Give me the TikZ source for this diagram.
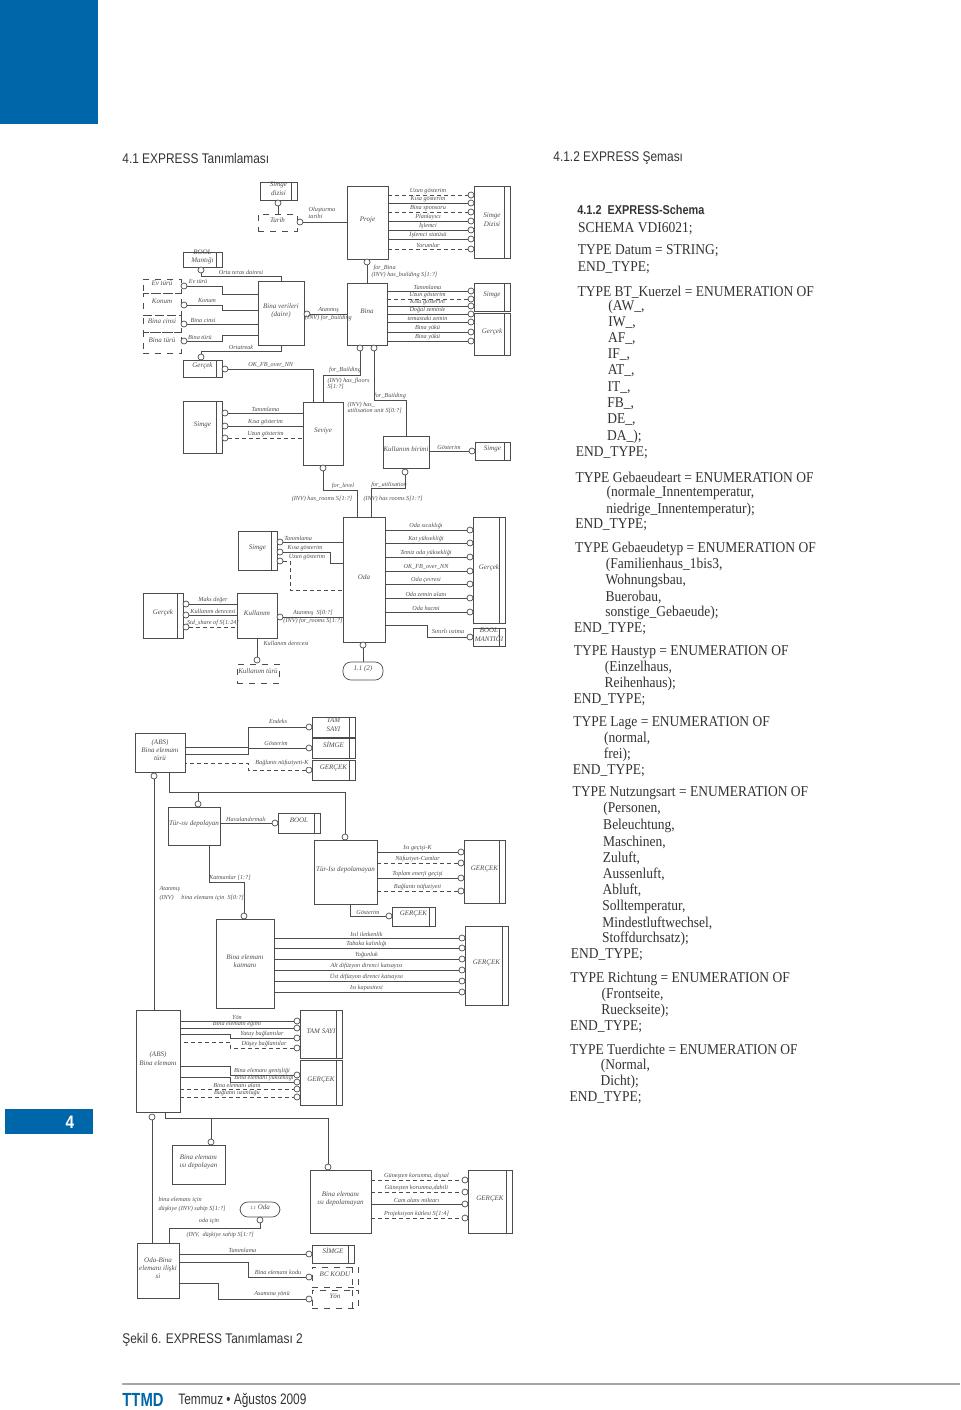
\documentclass[tikz,border=0pt]{standalone}
\usepackage{fontspec}
\setmainfont{Liberation Serif}
\newfontfamily\headfont[FakeStretch=0.85]{Liberation Sans}
\newfontfamily\codefont[FakeStretch=0.9]{Liberation Serif}
\newfontfamily\ttmdfont[FakeStretch=0.78]{Liberation Sans}
\usetikzlibrary{fit,positioning}
\definecolor{ttmd}{HTML}{0066AA}
\definecolor{ink}{gray}{0.3}
\tikzset{
  box/.style={draw=ink,line width=.35pt,inner sep=0pt,align=center,text=ink,font=\fontsize{3.5}{4.1}\selectfont\itshape},
  dbox/.style={box,dashed},
  tbox/.style={box,path picture={\draw[ink,line width=.35pt] ([xshift=-3pt]path picture bounding box.north east) -- ([xshift=-3pt]path picture bounding box.south east);}},
  dtbox/.style={dbox,path picture={\draw[ink,line width=.35pt,dashed] ([xshift=-3pt]path picture bounding box.north east) -- ([xshift=-3pt]path picture bounding box.south east);}},
  rbox/.style={box,rounded corners=4pt},
  dot/.style={circle,draw=ink,fill=white,line width=.35pt,inner sep=0pt,minimum size=3pt},
  lbl/.style={font=\fontsize{3.1}{3.6}\selectfont\itshape,text=ink,inner sep=.6pt,align=left},
  wire/.style={draw=ink,line width=.35pt},
  dwire/.style={wire,dash pattern=on 2pt off 1.5pt},
  code/.style={anchor=west,inner sep=0pt,font=\codefont\fontsize{7.5}{8}\selectfont,text=black!80},
  head/.style={anchor=west,inner sep=0pt,font=\headfont\fontsize{7}{8}\selectfont,text=black!80}
}
\newcommand{\bx}[5]{\node[#1,fit={(#3)(#4)}] (#2) {#5};}
\newcommand{\att}[5][wire]{%
  \node[dot] (#3) at (#4) {};
  \draw[#1] (#2.east |- #3) -- (#3) node[lbl,midway,above] {#5};}
\newcommand{\attl}[5][wire]{%
  \node[dot] (#3) at (#4) {};
  \draw[#1] (#3) -- (#2.west |- #3) node[lbl,midway,above] {#5};}

\begin{document}
\begin{tikzpicture}[x=0.5pt,y=-0.5pt]
\path[use as bounding box] (0,0) rectangle (960,1410);
\fill[ttmd] (0,0) rectangle (98,124);
\node[head] (h1) at (122,158) {4.1 EXPRESS Tanımlaması};
\node[head] (h2) at (553,158) {4.1.2 EXPRESS Şeması};

\bx{tbox}{sdat}{260,182}{297,200}{Simge\\dizisi}
\node[dot] (sdatc) at (278,203) {};
\bx{dbox}{tarih}{258,214}{297,231}{Tarih}
\draw[wire] (sdatc) -- (sdatc |- tarih.north);
\bx{box}{proje}{347,186}{388,259}{Proje}
\node[dot] (tarc) at (300,222) {};
\draw[wire] (tarc) -- (tarc -| proje.west);
\node[lbl] (l1) at (322,213) {Oluşturma\\tarihi};
\bx{tbox}{sdiz}{474,186}{510,258}{Simge\\Dizisi}
\att[dwire]{proje}{pa}{471,195}{Uzun gösterim}
\att{proje}{pb}{471,203}{Kısa gösterim}
\att[dwire]{proje}{pc}{471,212}{Bina sponsoru}
\att{proje}{pd}{471,221}{Planlayıcı}
\att{proje}{pe}{471,230}{İşlemci}
\att{proje}{pf}{471,239}{İşlemci statüsü}
\att[dwire]{proje}{pg}{471,249}{Yorumlar}

\node[dot] (prc) at (367,262) {};
\bx{box}{bina}{347,283}{387,345}{Bina}
\draw[wire] (prc) -- (prc |- bina.north);
\node[lbl,anchor=west] (l2) at (372,268) {for\_Bina};
\node[lbl,anchor=west] (l3) at (370,275) {(INV) has\_building S[1:?]};
\bx{tbox}{bsim}{474,283}{510,311}{Simge}
\bx{tbox}{bger}{474,313}{510,355}{Gerçek}
\att{bina}{ba}{471,291}{Tanımlama}
\att[dwire]{bina}{bb}{471,299}{Uzun gösterim}
\att{bina}{bc}{471,306}{Kısa gösterim}
\att{bina}{bd}{471,314}{Doğal zeminle}
\att{bina}{be}{471,322}{temastaki zemin}
\att{bina}{bf}{471,332}{Bina yükü}
\att{bina}{bg}{471,341}{Bina yükü}
\node[dot] (bc1) at (360,348) {};
\node[dot] (bc2) at (374,348) {};

\bx{tbox}{bool}{183,252}{222,267}{BOOL\\Mantığı}
\node[dot] (boolc) at (201,270) {};
\bx{box}{bver}{258,281}{304,345}{Bina verileri\\(daire)}
\draw[wire] (boolc) -- ++(0,6) -| (bver.north) node[lbl,pos=0.25,above] {Orta teras dairesi};
\bx{dbox}{evt}{143,279}{181,293}{Ev türü}
\bx{dbox}{kon}{143,293}{181,315}{Konum}
\bx{dbox}{bcn}{143,315}{181,332}{Bina cinsi}
\bx{dbox}{btr}{143,332}{181,353}{Bina türü}
\node[dot] (evc) at (184,286) {};
\node[dot] (konc) at (184,305) {};
\node[dot] (bcnc) at (184,324) {};
\node[dot] (btrc) at (184,341) {};
\draw[wire] (evc) -- ++(38,0) -- ++(0,8) coordinate (q1) -- (q1 -| bver.west);
\draw[wire] (konc) -- ++(38,0) -- ++(0,5) coordinate (q2) -- (q2 -| bver.west);
\draw[wire] (bcnc) -- (bcnc -| bver.west);
\draw[wire] (btrc) -- ++(38,0) -- ++(0,-6) coordinate (q3) -- (q3 -| bver.west);
\node[lbl] (l4) at (198,281) {Ev türü};
\node[lbl] (l5) at (207,300) {Konum};
\node[lbl] (l6) at (203,320) {Bina cinsi};
\node[lbl] (l7) at (200,337) {Bina türü};
\node[dot] (bvc) at (307,314) {};
\draw[wire] (bvc) -- (bvc -| bina.west) node[lbl,midway,above] {Atanmış} node[lbl,midway,below] {(INV) for\_building};

\bx{tbox}{ger1}{183,360}{222,377}{Gerçek}
\node[dot] (gerc1) at (201,357) {};
\draw[wire] (bver.south) -- ++(0,6) -| (gerc1) node[lbl,pos=0.25,above] {Ortatreak};
\bx{box}{sev}{303,402}{343,465}{Seviye}
\node[dot] (gerc2) at (225,369) {};
\draw[wire] (gerc2) -| ([xshift=-5pt]sev.north) node[lbl,pos=0.25,above] {OK\_FB\_over\_NN};
\draw[wire] (bc1) -- ++(0,27) -| (sev.north);
\node[lbl] (l8) at (345,370) {for\_Building};
\node[lbl,anchor=west] (l9) at (326,381) {(INV) has\_floors};
\node[lbl,anchor=west] (l10) at (326,387) {S[1:?]};
\bx{box}{kb}{383,436}{429,468}{Kullanım birimi}
\draw[wire] (bc2) -- ++(0,52) -| (kb.north);
\node[lbl] (l11) at (390,396) {for\_Building};
\node[lbl,anchor=west] (l12) at (346,405) {(INV) has\_};
\node[lbl,anchor=west] (l13) at (346,411) {utilisation unit S[0:?]};
\bx{tbox}{ksim}{475,442}{510,460}{Simge}
\node[dot] (kbs) at (472,451) {};
\draw[wire] (kb.east |- kbs) -- (kbs) node[lbl,midway,above] {Gösterim};
\bx{tbox}{ssim}{183,401}{222,453}{Simge}
\attl{sev}{sa}{225,413}{Tanımlama}
\attl{sev}{sb}{225,426}{Kısa gösterim}
\attl[dwire]{sev}{sc}{225,438}{Uzun gösterim}

\bx{box}{oda}{343,517}{385,642}{Oda}
\node[dot] (svc) at (323,468) {};
\draw[wire] (svc) -- ++(0,22) -| ([xshift=-3.5pt]oda.north);
\node[lbl] (l14) at (343,486) {for\_level};
\node[lbl] (l15) at (322,499) {(INV) has\_rooms S[1:?]};
\node[dot] (kbc) at (405,472) {};
\draw[wire] (kbc) -- ++(0,16) -| ([xshift=3.5pt]oda.north);
\node[lbl] (l16) at (389,485) {for\_utilisation};
\node[lbl] (l17) at (393,499) {(INV) has rooms S[1:?]};
\bx{tbox}{oger}{473,517}{505,623}{Gerçek}
\att{oda}{oa}{470,530}{Oda sıcaklığı}
\att{oda}{ob}{470,543}{Kat yüksekliği}
\att{oda}{oc}{470,557}{Temiz oda yüksekliği}
\att{oda}{od}{470,571}{OK\_FB\_over\_NN}
\att{oda}{oe}{470,584}{Oda çevresi}
\att{oda}{of}{470,598}{Oda zemin alanı}
\att{oda}{og}{470,612}{Oda hacmi}
\bx{tbox}{obool}{473,628}{505,646}{BOOL\\MANTIĞI}
\node[dot] (osi) at (470,637) {};
\draw[wire] ([yshift=8.5pt]oda.south east) -- ++(42,0) |- (osi);
\node[lbl] (l18) at (448,631) {Sınırlı ısıtma};
\bx{tbox}{osim}{238,531}{277,570}{Simge}
\node[dot] (osa) at (280,542) {};
\node[dot] (osb) at (280,552) {};
\node[dot] (osc) at (280,561) {};
\draw[wire] (osa) -- (osa -| oda.west) node[lbl,pos=0.25,above] {Tanımlama};
\draw[wire] (osb) -- ++(50,0) -- ++(0,11) coordinate (q4) -- (q4 -| oda.west);
\draw[dwire] (osc) -- ++(10,0) -- ++(0,29) coordinate (q5) -- (q5 -| oda.west);
\node[lbl] (l19) at (305,548) {Kısa gösterim};
\node[lbl] (l20) at (307,557) {Uzun gösterim};
\bx{box}{kul}{237,593}{277,638}{Kullanım}
\node[dot] (kuc) at (280,617) {};
\draw[wire] (kuc) -- (kuc -| oda.west) node[lbl,midway,above] {Atanmış \ S[0:?]} node[lbl,midway,below] {(INV) for\_rooms S[1:?]};
\bx{tbox}{kger}{143,593}{183,638}{Gerçek}
\attl{kul}{ka}{186,604}{Maks değer}
\attl{kul}{kbd}{186,615}{Kullanım derecesi}
\attl[dwire]{kul}{kc}{186,627}{Std\_share of S[1:24]}
\node[dot] (kuc2) at (257,660) {};
\draw[wire] (kul) -- (kuc2);
\node[lbl,anchor=west] (l21) at (262,643) {Kullanım derecesi};
\bx{dbox}{kturu}{237,664}{279,683}{Kullanım türü}
\node[dot] (odc) at (363,645) {};
\bx{rbox}{r12}{343,662}{383,680}{1.1 (2)}
\draw[wire] (odc) -- (r12);

\bx{box}{bet}{135,733}{185,772}{(ABS)\\Bina elemanı\\türü}
\bx{tbox}{ets}{312,717}{355,737}{TAM\\SAYI}
\bx{tbox}{esi}{312,738}{355,758}{SİMGE}
\bx{tbox}{ege}{312,760}{355,780}{GERÇEK}
\node[dot] (ea) at (309,727) {};
\node[dot] (eb) at (309,748) {};
\node[dot] (ec) at (309,770) {};
\draw[wire] (ea) -- ++(-61,0) -- ++(0,20) coordinate (q6) -- (q6 -| bet.east);
\draw[wire] (eb) -- ++(-61,0) -- ++(0,6) coordinate (q7) -- (q7 -| bet.east);
\draw[dwire] (ec) -- ++(-61,0) -- ++(0,-7) coordinate (q8) -- (q8 -| bet.east);
\node[lbl] (l22) at (278,721) {Endeks};
\node[lbl] (l23) at (276,743) {Gösterim};
\node[lbl,fill=white] (l24) at (282,763) {Bağlantı nüfuziyeti-K};
\node[dot] (btc) at (154,776) {};
\bx{box}{bel}{136,1010}{180,1112}{(ABS)\\Bina elemanı}
\draw[wire] (btc) -- (btc |- bel.north);
\node[lbl,anchor=west] (l25) at (158,889) {Atanmış};
\node[lbl,anchor=west] (l26) at (158,898) {(INV) \quad bina elemanı için \ S[0:?]};

\bx{box}{tid}{168,807}{220,845}{Tür-ısı depolayan}
\bx{box}{tdm}{314,840}{377,904}{Tür-Isı depolamayan}
\node[dot] (tdc1) at (198,804) {};
\node[dot] (tdc2) at (345,837) {};
\draw[wire] ([xshift=4.5pt]bet.south) -- ++(0,20) -| (tdc2);
\draw[wire] (tdc1) -- ++(0,-12);
\bx{tbox}{hbool}{278,813}{320,833}{BOOL}
\att{tid}{hav}{275,823}{Havalandırmalı}
\bx{box}{bek}{216,919}{274,1008}{Bina elemanı\\katmanı}
\node[dot] (kac) at (244,916) {};
\draw[wire] ([xshift=7.5pt]tid.south) -- ++(0,37) -| (kac) node[lbl,pos=0.3,above] {Katmanlar [1:?]};
\bx{tbox}{tger}{464,840}{505,903}{GERÇEK}
\att{tdm}{ta1}{461,852}{Isı geçişi-K}
\att[dwire]{tdm}{ta2}{461,863}{Nüfuziyet-Camlar}
\att{tdm}{ta3}{461,878}{Toplam enerji geçişi}
\att[dwire]{tdm}{ta4}{461,891}{Bağlantı nüfuziyeti}
\bx{tbox}{gger}{392,907}{435,926}{GERÇEK}
\node[dot] (gsc) at (389,916) {};
\draw[wire] ([xshift=2.25pt]tdm.south) |- (gsc) node[lbl,pos=0.75,above] {Gösterim};
\bx{tbox}{kger2}{465,926}{508,1005}{GERÇEK}
\att{bek}{ka1}{462,938}{Isıl iletkenlik}
\att{bek}{ka2}{462,948}{Tabaka kalınlığı}
\att{bek}{ka3}{462,959}{Yoğunluk}
\att{bek}{ka4}{462,970}{Alt difüzyon direnci katsayısı}
\att{bek}{ka5}{462,981}{Üst difüzyon direnci katsayısı}
\att{bek}{ka6}{462,992}{Isı kapasitesi}

\bx{tbox}{bts}{300,1010}{342,1058}{TAM SAYI}
\bx{tbox}{bge}{300,1060}{342,1105}{GERÇEK}
\att{bel}{ya}{297,1021}{Yön}
\att{bel}{yb}{297,1028}{Bina elemanı eğimi}
\node[dot] (yc) at (297,1038) {};
\node[dot] (yd) at (297,1048) {};
\draw[wire] (yc) -- ++(-67,0) -- ++(0,-4) coordinate (q9) -- (q9 -| bel.east);
\draw[dwire] (yd) -- ++(-67,0) -- ++(0,-6) coordinate (q10) -- (q10 -| bel.east);
\node[lbl] (l27) at (262,1034) {Yatay bağlantılar};
\node[lbl] (l28) at (264,1044) {Düşey bağlantılar};
\node[dot] (ga) at (297,1075) {};
\node[dot] (gb) at (297,1082) {};
\draw[wire] (ga) -- ++(-67,0) -- ++(0,-9) coordinate (q11) -- (q11 -| bel.east);
\draw[wire] (gb) -- ++(-67,0) -- ++(0,-5) coordinate (q12) -- (q12 -| bel.east);
\node[lbl] (l29) at (262,1071) {Bina elemanı genişliği};
\node[lbl] (l30) at (264,1078) {Bina elemanı yüksekliği};
\att[dwire]{bel}{gc}{297,1089}{Bina elemanı alanı}
\att[dwire]{bel}{gd}{297,1097}{Bağlantı uzunluğu}

\node[dot] (belc) at (152,1117) {};
\bx{box}{obi}{137,1243}{179,1298}{Oda-Bina\\elemanı ilişki\\si}
\draw[wire] (belc) -- (belc |- obi.north);
\bx{box}{bei}{172,1145}{225,1184}{Bina elemanı\\ısı depolayan}
\bx{box}{bem}{310,1170}{371,1233}{Bina elemanı\\ısı depolamayan}
\node[dot] (beic) at (211,1142) {};
\node[dot] (bemc) at (328,1167) {};
\draw[wire] ([xshift=3.5pt]bel.south) -- ++(0,6) -| (bemc);
\draw[wire] (beic) -- ++(0,-24);
\bx{tbox}{bger3}{468,1170}{512,1233}{GERÇEK}
\att[dwire]{bem}{ma}{465,1180}{Güneşten korunma, dışsal}
\att[dwire]{bem}{mb}{465,1192}{Güneşten korunma,dahili}
\att{bem}{mc}{465,1204}{Cam alanı miktarı}
\att[dwire]{bem}{md}{465,1218}{Projeksiyon kütlesi S[1:4]}
\bx{rbox}{r11}{240,1202}{280,1217}{{\fontsize{2.4}{3}\selectfont 1.1} Oda}
\node[dot] (odc2) at (260,1220) {};
\draw[wire] (odc2) -- ++(0,8) -| ([xshift=5.5pt]obi.north);
\node[lbl,anchor=west] (l31) at (157,1200) {bina elemanı için};
\node[lbl,anchor=west] (l32) at (157,1209) {düşkiye (INV) sahip S[1:?]};
\node[lbl] (l33) at (209,1221) {oda için};
\node[lbl,anchor=west] (l34) at (185,1235) {(INV, \ düşkiye sahip S[1:?]};
\bx{tbox}{osim2}{312,1245}{354,1263}{SİMGE}
\bx{dtbox}{bck}{312,1267}{358,1287}{BC KODU}
\bx{dtbox}{yon}{312,1290}{358,1308}{Yön}
\att{obi}{ra}{309,1254}{Tanımlama}
\node[dot] (rb) at (309,1277) {};
\node[dot] (rc) at (309,1299) {};
\draw[wire] (rb) -- ++(-61,0) -- ++(0,-15) coordinate (q13) -- (q13 -| obi.east);
\draw[wire] (rc) -- ++(-91,0) -- ++(0,-16) coordinate (q14) -- (q14 -| obi.east);
\node[lbl] (l35) at (278,1272) {Bina elemanı kodu};
\node[lbl] (l36) at (272,1294) {Asamına yönü};

\node[code,font=\headfont\bfseries\fontsize{6.4}{7}\selectfont] (c210) at (577,210) {4.1.2 \ EXPRESS-Schema};
\foreach \y/\i/\t in {229/0/{SCHEMA VDI6021;}, 251/0/{TYPE Datum = STRING;}, 268/0/{END\_TYPE;},
  292/0/{TYPE BT\_Kuerzel = ENUMERATION OF}, 307/1/{(AW\_,}, 323/1/{IW\_,}, 339/1/{AF\_,}, 355/1/{IF\_,},
  371/1/{AT\_,}, 388/1/{IT\_,}, 404/1/{FB\_,}, 420/1/{DE\_,}, 437/1/{DA\_);}, 453/0/{END\_TYPE;},
  477/0/{TYPE Gebaeudeart = ENUMERATION OF}, 493/1/{(normale\_Innentemperatur,}, 510/1/{niedrige\_Innentemperatur);}, 525/0/{END\_TYPE;},
  549/0/{TYPE Gebaeudetyp = ENUMERATION OF}, 565/1/{(Familienhaus\_1bis3,}, 581/1/{Wohnungsbau,}, 597/1/{Buerobau,}, 613/1/{sonstige\_Gebaeude);}, 629/0/{END\_TYPE;},
  652/0/{TYPE Haustyp = ENUMERATION OF}, 668/1/{(Einzelhaus,}, 684/1/{Reihenhaus);}, 700/0/{END\_TYPE;},
  723/0/{TYPE Lage = ENUMERATION OF}, 739/1/{(normal,}, 755/1/{frei);}, 771/0/{END\_TYPE;},
  793/0/{TYPE Nutzungsart = ENUMERATION OF}, 809/1/{(Personen,}, 826/1/{Beleuchtung,}, 842/1/{Maschinen,}, 858/1/{Zuluft,}, 874/1/{Aussenluft,}, 890/1/{Abluft,}, 907/1/{Solltemperatur,}, 923/1/{Mindestluftwechsel,}, 939/1/{Stoffdurchsatz);}, 955/0/{END\_TYPE;},
  979/0/{TYPE Richtung = ENUMERATION OF}, 995/1/{(Frontseite,}, 1011/1/{Rueckseite);}, 1027/0/{END\_TYPE;},
  1049/0/{TYPE Tuerdichte = ENUMERATION OF}, 1066/1/{(Normal,}, 1082/1/{Dicht);}, 1098/0/{END\_TYPE;}}
  {\pgfmathsetmacro\cx{578-0.01*(\y-210)+31*\i}
   \node[code] (c\y) at (\cx,\y) {\t};}

\fill[ttmd] (5,1109) rectangle (93,1134);
\node[font=\headfont\bfseries\fontsize{9}{10}\selectfont,text=white,inner sep=0pt] (pno) at (70,1122) {4};
\node[head] (cap) at (122,1340) {Şekil 6. EXPRESS Tanımlaması 2};
\draw[black!35,line width=.6pt] (122,1384) -- (960,1384);
\node[anchor=west,inner sep=0pt,font=\ttmdfont\bfseries\fontsize{9.5}{10}\selectfont,text=ttmd] (ttmdl) at (122,1400) {TTMD};
\node[head,font=\ttmdfont\fontsize{7.6}{9}\selectfont] (date) at (178,1400) {Temmuz • Ağustos 2009};
\end{tikzpicture}
\end{document}
